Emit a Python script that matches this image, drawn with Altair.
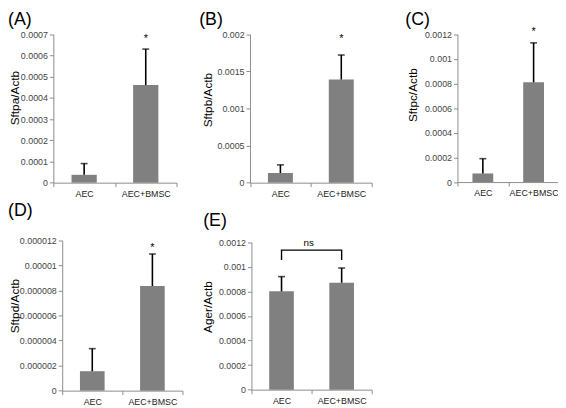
import altair as alt
import pandas as pd

categories = ["AEC", "AEC+BMSC"]
panel_letters = ["(A)", "(B)", "(C)", "(D)", "(E)"]
y_titles = ["Sftpa/Actb", "Sftpb/Actb", "Sftpc/Actb", "Sftpd/Actb", "Ager/Actb"]

means_A = [0.000037, 0.00046]
upper_A = [0.00009, 0.00063]
means_B = [0.00013, 0.00139]
upper_B = [0.00024, 0.00172]
means_C = [0.00007, 0.00081]
upper_C = [0.00019, 0.00113]
means_D = [0.00000155, 0.00000835]
upper_D = [0.00000335, 0.0000109]
means_E = [0.0008, 0.00087]
upper_E = [0.00092, 0.00099]

sig_A = ["", "*"]
sig_B = ["", "*"]
sig_C = ["", "*"]
sig_D = ["", "*"]
star_level = [0.000689, 0.00197, 0.00124, 0.0000116]

ticks_A = [0, 0.0001, 0.0002, 0.0003, 0.0004, 0.0005, 0.0006, 0.0007]
ticks_B = [0, 0.0005, 0.001, 0.0015, 0.002]
ticks_C = [0, 0.0002, 0.0004, 0.0006, 0.0008, 0.001, 0.0012]
ticks_D = [0, 0.000002, 0.000004, 0.000006, 0.000008, 0.00001, 0.000012]
ticks_E = [0, 0.0002, 0.0004, 0.0006, 0.0008, 0.001, 0.0012]

bracket_cat = ["AEC", "AEC", "AEC+BMSC", "AEC+BMSC"]
bracket_y = [0.001056, 0.001136, 0.001136, 0.001056]
ns_label = "ns"
ns_level = 0.001195

FONT = "Liberation Sans"
BAR = "#808080"
AXIS_GRAY = "#8c8c8c"
H = 400


def panel(letter, title, means, upper, ticks, fmt, xr, yr, title_x, title_y,
          letter_xy, sig=None, star=None, bracket=False):
    df = pd.DataFrame({"cat": categories, "mean": means, "upper": upper})

    def xsc():
        return alt.Scale(domain=categories, range=xr, paddingInner=0, paddingOuter=0)

    def ysc():
        return alt.Scale(domain=[ticks[0], ticks[-1]], range=yr, nice=False, zero=True)

    x_enc = alt.X("cat:N", sort=categories, scale=xsc(), title=None,
                  axis=alt.Axis(orient="bottom", offset=yr[0] - H, labelAngle=0,
                                labelFont=FONT, labelFontSize=9, labelColor="#222",
                                labelPadding=3, tickBand="extent", tickSize=4,
                                tickColor=AXIS_GRAY, domainColor=AXIS_GRAY,
                                domainWidth=1, tickWidth=1, labelOverlap=False))
    y_enc = alt.Y("mean:Q", scale=ysc(),
                  axis=alt.Axis(orient="left", offset=-xr[0], values=ticks, format=fmt,
                                grid=False, labelFont=FONT, labelFontSize=9,
                                labelColor="#444", labelPadding=2, tickSize=4,
                                tickColor=AXIS_GRAY, domainColor=AXIS_GRAY,
                                domainWidth=1, tickWidth=1, title=title,
                                titleFont=FONT, titleFontSize=12, titleFontWeight="normal",
                                titleColor="#000", titleX=title_x, titleY=title_y,
                                titleBaseline="middle", titleAngle=270,
                                labelOverlap=False))

    def xs():
        return alt.X("cat:N", sort=categories, scale=xsc(), axis=None)

    def ys(field):
        return alt.Y(field, scale=ysc(), axis=None)

    bars = alt.Chart(df).mark_bar(color=BAR, width={"band": 0.41}).encode(x=x_enc, y=y_enc)
    err = alt.Chart(df).mark_rule(color="#000", strokeWidth=1.6).encode(
        x=xs(), y=ys("mean:Q"), y2="upper:Q")
    cap = alt.Chart(df).mark_tick(color="#000", thickness=1.6, size=7,
                                  orient="horizontal").encode(x=xs(), y=ys("upper:Q"))
    layers = [bars, err, cap]
    if sig is not None:
        sdf = pd.DataFrame({"cat": categories, "sig": sig, "lvl": [star, star]})
        stars = alt.Chart(sdf).mark_text(font=FONT, fontSize=11, baseline="alphabetic",
                                         dy=6, color="#000").encode(
            x=xs(), y=ys("lvl:Q"), text="sig:N")
        layers.append(stars)
    if bracket:
        bdf = pd.DataFrame({"cat": bracket_cat, "y": bracket_y,
                            "step": list(range(len(bracket_cat)))})
        br = alt.Chart(bdf).mark_line(color="#000", strokeWidth=1.4).encode(
            x=xs(), y=ys("y:Q"), order="step:Q")
        ndf = pd.DataFrame({"cat": [categories[0]], "lab": [ns_label], "lvl": [ns_level]})
        half_band = (xr[1] - xr[0]) / (2 * len(categories))
        ns = alt.Chart(ndf).mark_text(font=FONT, fontSize=10, baseline="alphabetic",
                                      dy=3, dx=half_band - 3, color="#000").encode(
            x=xs(), y=ys("lvl:Q"), text="lab:N")
        layers += [br, ns]
    ldf = pd.DataFrame({"lab": [letter]})
    lab = alt.Chart(ldf).mark_text(font=FONT, fontSize=18, align="left", baseline="top",
                                   color="#000").encode(
        text="lab:N", x=alt.value(letter_xy[0]), y=alt.value(letter_xy[1]))
    layers.append(lab)
    return layers


layers = []
layers += panel(panel_letters[0], y_titles[0], means_A, upper_A, ticks_A, ".4~f",
                [46, 171], [174.3, 23.7], 6.5 - 46, 88, (0, 0), sig_A, star_level[0])
layers += panel(panel_letters[1], y_titles[1], means_B, upper_B, ticks_B, ".4~f",
                [245.5, 369], [174.3, 23.7], 202 - 245.5, 90, (194, 0), sig_B, star_level[1])
layers += panel(panel_letters[2], y_titles[2], means_C, upper_C, ticks_C, ".4~f",
                [456, 559], [173.7, 23.7], 410 - 456, 85, (403, 0), sig_C, star_level[2])
layers += panel(panel_letters[3], y_titles[3], means_D, upper_D, ticks_D, ".6~f",
                [55, 177], [385.3, 232.7], 7 - 55, 299, (0, 194), sig_D, star_level[3])
layers += panel(panel_letters[4], y_titles[4], means_E, upper_E, ticks_E, ".4~f",
                [247, 369], [384.3, 234.7], 202.5 - 247, 300, (198, 204), bracket=True)

chart = alt.layer(*layers).resolve_scale(
    x="independent", y="independent"
).properties(
    width=558, height=H, padding=0,
    autosize=alt.AutoSizeParams(type="none"),
).configure_view(stroke=None)

chart.save("out.html", embed_options={"renderer": "svg", "actions": False})
